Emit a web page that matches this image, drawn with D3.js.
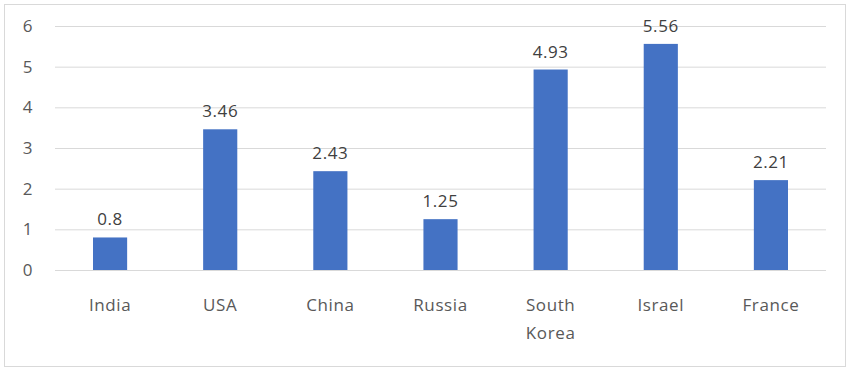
<!DOCTYPE html>
<html>
<head>
<meta charset="utf-8">
<script src="https://cdn.jsdelivr.net/npm/d3@7"></script>
<style>
  body { margin: 0; background: #fff; }
  text { font-family: "Open Sans", "Noto Sans", sans-serif; letter-spacing: 0.6px; }
</style>
</head>
<body>
<div id="chart"></div>
<script>
const categories = ['India', 'USA', 'China', 'Russia', 'South Korea', 'Israel', 'France'];
const values = [0.8, 3.46, 2.43, 1.25, 4.93, 5.56, 2.21];
const yTicks = [0, 1, 2, 3, 4, 5, 6];

const W = 850, H = 371;
const margin = { top: 26, right: 24, bottom: 101, left: 55 };
const width = W - margin.left - margin.right;
const height = H - margin.top - margin.bottom;

const svg = d3.select('#chart').append('svg')
    .attr('width', W)
    .attr('height', H);

// outer frame
svg.append('rect')
    .attr('x', 4.5).attr('y', 4.5)
    .attr('width', W - 9).attr('height', H - 9)
    .attr('fill', '#fff')
    .attr('stroke', '#d9d9d9');

const g = svg.append('g')
    .attr('transform', `translate(${margin.left},${margin.top})`);

const x = d3.scaleBand()
    .domain(categories)
    .range([0, width])
    .paddingInner(0.69)
    .paddingOuter(0.345);

const y = d3.scaleLinear()
    .domain([0, 6])
    .range([height, 0]);

// grid lines
g.append('g')
    .call(d3.axisLeft(y).tickValues(yTicks).tickSize(-width).tickFormat(''))
    .call(a => a.select('.domain').remove())
    .selectAll('line')
    .attr('stroke', '#d9d9d9');

// y labels
g.append('g')
    .call(d3.axisLeft(y).tickValues(yTicks).tickSize(0).tickPadding(22).tickFormat(d3.format('d')))
    .call(a => a.select('.domain').remove())
    .selectAll('text')
    .attr('font-size', '17px')
    .attr('fill', '#595959');

// bars
g.selectAll('.bar')
    .data(values)
    .enter()
    .append('rect')
    .attr('class', 'bar')
    .attr('x', (d, i) => x(categories[i]))
    .attr('width', x.bandwidth())
    .attr('y', d => y(d))
    .attr('height', d => height - y(d))
    .attr('fill', '#4472c4');

// value labels
g.selectAll('.value-label')
    .data(values)
    .enter()
    .append('text')
    .attr('class', 'value-label')
    .attr('x', (d, i) => x(categories[i]) + x.bandwidth() / 2)
    .attr('y', d => y(d) - 12)
    .attr('text-anchor', 'middle')
    .attr('font-size', '17px')
    .attr('fill', '#404040')
    .text(d => d);

// category labels
const xa = g.append('g')
    .attr('transform', `translate(0,${height})`)
    .call(d3.axisBottom(x).tickSize(0).tickPadding(0));
xa.select('.domain').remove();
xa.selectAll('text').remove();
xa.selectAll('.tick').each(function (d) {
    const words = d.split(' ');
    const t = d3.select(this).append('text')
        .attr('text-anchor', 'middle')
        .attr('font-size', '17px')
        .attr('fill', '#595959');
    words.forEach((w, k) => {
        t.append('tspan')
            .attr('x', 0)
            .attr('y', 41 + k * 28)
            .text(w);
    });
});
</script>
</body>
</html>
